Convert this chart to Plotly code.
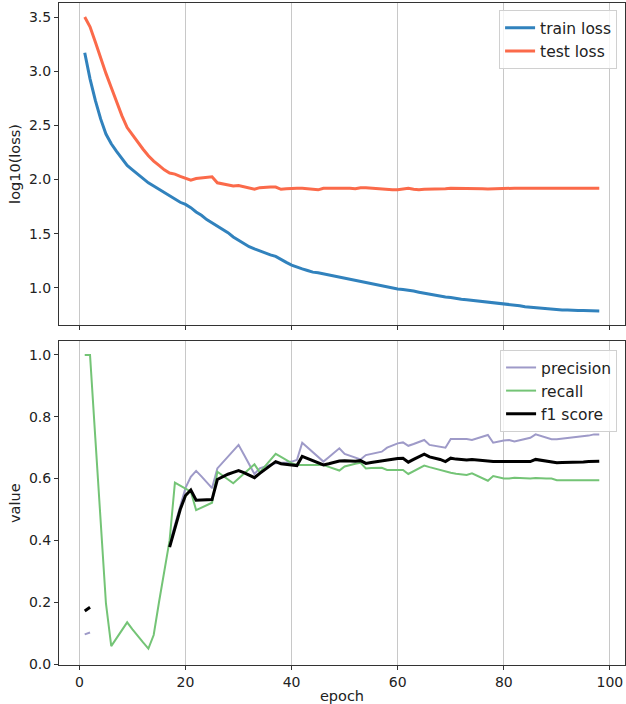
import plotly.graph_objects as go

epochs = list(range(1, 99))

train_loss = [3.17, 2.93, 2.73, 2.56, 2.42, 2.33, 2.26, 2.19, 2.13, 2.09,
              2.05, 2.01, 1.97, 1.94, 1.91, 1.88, 1.85, 1.82, 1.79, 1.77,
              1.74, 1.70, 1.67, 1.63, 1.60, 1.57, 1.54, 1.51, 1.47, 1.44,
              1.41, 1.38, 1.36, 1.34, 1.32, 1.305, 1.29, 1.26, 1.235, 1.21,
              1.19, 1.175, 1.16, 1.145, 1.14, 1.13, 1.12, 1.11, 1.10, 1.09,
              1.075, 1.065, 1.055, 1.045, 1.035, 1.025, 1.015, 1.005, 0.995, 0.99,
              0.985, 0.98, 0.97, 0.96, 0.95, 0.94, 0.935, 0.925, 0.915, 0.91,
              0.90, 0.895, 0.89, 0.885, 0.88, 0.875, 0.865, 0.86, 0.855, 0.85,
              0.845, 0.84, 0.835, 0.825, 0.82, 0.815, 0.81, 0.805, 0.80, 0.80,
              0.795, 0.795, 0.79, 0.79, 0.79, 0.79, 0.787, 0.787]

test_loss = [3.50, 3.41, 3.27, 3.12, 2.98, 2.85, 2.72, 2.59, 2.48, 2.41,
             2.35, 2.28, 2.22, 2.17, 2.13, 2.09, 2.06, 2.05, 2.03, 2.01,
             1.995, 2.01, 2.015, 2.02, 2.025, 1.97, 1.96, 1.955, 1.94, 1.945,
             1.935, 1.92, 1.91, 1.925, 1.93, 1.93, 1.93, 1.91, 1.915, 1.92,
             1.92, 1.92, 1.915, 1.91, 1.905, 1.92, 1.92, 1.92, 1.925, 1.925,
             1.92, 1.915, 1.925, 1.925, 1.92, 1.92, 1.915, 1.905, 1.905, 1.905,
             1.915, 1.92, 1.91, 1.905, 1.91, 1.91, 1.915, 1.915, 1.915, 1.92,
             1.92, 1.92, 1.915, 1.915, 1.915, 1.915, 1.912, 1.915, 1.918, 1.92,
             1.92, 1.92, 1.92, 1.92, 1.92, 1.92, 1.92, 1.92, 1.92, 1.92,
             1.92, 1.92, 1.92, 1.92, 1.92, 1.92, 1.92, 1.92]

precision = [0.096, 0.102, None, None, None, None, None, None, None, None,
             None, None, None, None, None, None, 0.39, 0.45, 0.51, 0.57,
             0.606, 0.625, 0.607, 0.588, 0.569, 0.633, 0.652, 0.671, 0.69, 0.709,
             0.678, 0.648, 0.615, 0.633, 0.64, 0.645, 0.65, 0.65, 0.652, 0.655,
             0.66, 0.716, 0.70, 0.685, 0.67, 0.655, 0.669, 0.684, 0.698, 0.68,
             0.674, 0.668, 0.662, 0.676, 0.68, 0.684, 0.687, 0.70, 0.707, 0.714,
             0.717, 0.706, 0.712, 0.718, 0.725, 0.709, 0.706, 0.703, 0.70, 0.728,
             0.728, 0.728, 0.728, 0.725, 0.73, 0.736, 0.741, 0.716, 0.72, 0.723,
             0.725, 0.72, 0.724, 0.728, 0.732, 0.743, 0.738, 0.732, 0.727, 0.727,
             0.729, 0.731, 0.733, 0.733, 0.736, 0.739, 0.743, 0.743]

recall = [1.0, 1.0, 0.73, 0.465, 0.196, 0.058, 0.085, 0.11, 0.135, 0.112,
          0.09, 0.07, 0.05, 0.094, 0.20, 0.30, 0.40, 0.587, 0.578, 0.568,
          0.558, 0.498, 0.506, 0.514, 0.522, 0.622, 0.61, 0.598, 0.585, 0.60,
          0.615, 0.63, 0.646, 0.62, 0.64, 0.66, 0.68, 0.67, 0.66, 0.65,
          0.644, 0.644, 0.644, 0.644, 0.644, 0.644, 0.638, 0.632, 0.626, 0.639,
          0.644, 0.648, 0.651, 0.633, 0.634, 0.635, 0.635, 0.628, 0.628, 0.628,
          0.628, 0.615, 0.624, 0.633, 0.642, 0.637, 0.632, 0.627, 0.622, 0.619,
          0.616, 0.614, 0.612, 0.617, 0.609, 0.601, 0.593, 0.608, 0.604, 0.60,
          0.60, 0.603, 0.602, 0.60, 0.60, 0.602, 0.60, 0.60, 0.60, 0.595,
          0.595, 0.595, 0.595, 0.595, 0.595, 0.595, 0.595, 0.595]

f1_score = [0.172, 0.184, None, None, None, None, None, None, None, None,
            None, None, None, None, None, None, 0.378, 0.44, 0.50, 0.545,
            0.563, 0.53, 0.531, 0.531, 0.532, 0.597, 0.606, 0.614, 0.62, 0.626,
            0.619, 0.612, 0.603, 0.617, 0.63, 0.644, 0.655, 0.648, 0.646, 0.645,
            0.642, 0.672, 0.665, 0.658, 0.651, 0.644, 0.648, 0.652, 0.657, 0.658,
            0.657, 0.656, 0.658, 0.649, 0.652, 0.655, 0.657, 0.66, 0.663, 0.665,
            0.666, 0.653, 0.662, 0.671, 0.679, 0.67, 0.666, 0.662, 0.655, 0.666,
            0.663, 0.661, 0.66, 0.662, 0.66, 0.657, 0.655, 0.655, 0.655, 0.655,
            0.655, 0.655, 0.655, 0.655, 0.655, 0.662, 0.659, 0.656, 0.653, 0.651,
            0.652, 0.652, 0.653, 0.654, 0.654, 0.655, 0.656, 0.656]

x_ticks = [0, 20, 40, 60, 80, 100]
loss_ticks = [1.0, 1.5, 2.0, 2.5, 3.0, 3.5]
value_ticks = [0.0, 0.2, 0.4, 0.6, 0.8, 1.0]

FONT = "DejaVu Sans"
fig = go.Figure()

fig.add_trace(go.Scatter(x=epochs, y=train_loss, mode="lines", name="train loss",
                         line=dict(color="#3182bd", width=3), xaxis="x", yaxis="y",
                         legend="legend"))
fig.add_trace(go.Scatter(x=epochs, y=test_loss, mode="lines", name="test loss",
                         line=dict(color="#fb6a4a", width=3), xaxis="x", yaxis="y",
                         legend="legend"))
fig.add_trace(go.Scatter(x=epochs, y=precision, mode="lines", name="precision",
                         line=dict(color="#9e9ac8", width=2), xaxis="x2", yaxis="y2",
                         legend="legend2"))
fig.add_trace(go.Scatter(x=epochs, y=recall, mode="lines", name="recall",
                         line=dict(color="#74c476", width=2), xaxis="x2", yaxis="y2",
                         legend="legend2"))
fig.add_trace(go.Scatter(x=epochs, y=f1_score, mode="lines", name="f1 score",
                         line=dict(color="black", width=3), xaxis="x2", yaxis="y2",
                         legend="legend2"))

axis_common = dict(showline=True, linecolor="#333333", linewidth=1, mirror=True,
                   ticks="outside", ticklen=4, tickcolor="#333333", zeroline=False,
                   automargin=False,
                   tickfont=dict(family=FONT, size=14, color="#222222"))

fig.update_layout(
    width=626, height=704,
    margin=dict(l=59, r=1, t=3, b=39),
    paper_bgcolor="white", plot_bgcolor="white",
    font=dict(family=FONT, size=14, color="#222222"),
    xaxis=dict(domain=[0, 1], anchor="y", range=[-3.85, 102.85], tickvals=x_ticks,
               showticklabels=False, showgrid=True, gridcolor="#c8c8c8", gridwidth=1,
               **axis_common),
    yaxis=dict(domain=[0.5136, 1.0], anchor="x", range=[0.657, 3.63], tickvals=loss_ticks,
               ticktext=["1.0", "1.5", "2.0", "2.5", "3.0", "3.5"],
               showgrid=False, **axis_common),
    xaxis2=dict(domain=[0, 1], anchor="y2", range=[-3.85, 102.85], tickvals=x_ticks,
                showgrid=True, gridcolor="#c8c8c8", gridwidth=1,
                title=dict(text="epoch", font=dict(family=FONT, size=14.5)),
                **axis_common),
    yaxis2=dict(domain=[0, 0.4894], anchor="x2", range=[-0.003, 1.045], tickvals=value_ticks,
                ticktext=["0.0", "0.2", "0.4", "0.6", "0.8", "1.0"],
                showgrid=False, **axis_common),
    legend=dict(x=0.986, y=0.989, xanchor="right", yanchor="top",
                bgcolor="rgba(255,255,255,0.8)", bordercolor="#d0d0d0", borderwidth=1,
                itemwidth=30,
                font=dict(family=FONT, size=15.5, color="#222222")),
    legend2=dict(x=0.986, y=0.476, xanchor="right", yanchor="top",
                 bgcolor="rgba(255,255,255,0.8)", bordercolor="#d0d0d0", borderwidth=1,
                 itemwidth=30,
                 font=dict(family=FONT, size=15.5, color="#222222")),
    showlegend=True,
    annotations=[
        dict(text="log10(loss)", xref="paper", yref="paper", x=-0.0777, y=0.757,
             textangle=-90, showarrow=False, xanchor="center", yanchor="middle",
             font=dict(family=FONT, size=14.5, color="#222222")),
        dict(text="value", xref="paper", yref="paper", x=-0.0777, y=0.2447,
             textangle=-90, showarrow=False, xanchor="center", yanchor="middle",
             font=dict(family=FONT, size=14.5, color="#222222")),
    ],
)

fig.write_html("out.html", config={"displayModeBar": False},
               post_script="document.body.style.margin='0';document.body.style.overflow='hidden';")
